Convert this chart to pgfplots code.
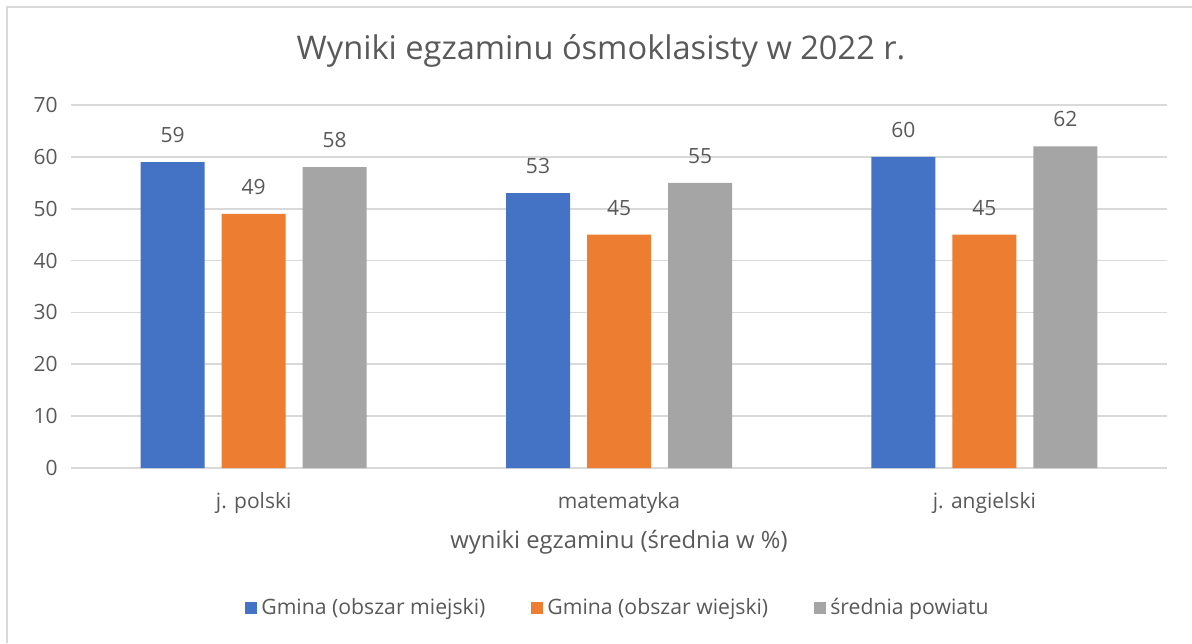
\documentclass[border=0pt]{standalone}
\usepackage{fontspec}
\setmainfont{Open Sans}
\usepackage{pgfplots}
\pgfplotsset{compat=1.18}
\definecolor{cblue}{HTML}{4472C4}
\definecolor{corange}{HTML}{ED7D31}
\definecolor{cgray}{HTML}{A5A5A5}
\definecolor{cgrid}{HTML}{D9D9D9}
\definecolor{txt}{HTML}{595959}
\begin{document}
\begin{tikzpicture}
\useasboundingbox (0,0) rectangle (596pt,321.5pt);
\draw[cgrid, line width=0.8pt] (3.5pt,0) -- (3.5pt,318pt) -- (596pt,318pt);
\node[txt, font=\fontsize{16.3}{19}\selectfont] at (300.5pt,296pt) {Wyniki egzaminu ósmoklasisty w 2022 r.};
\begin{axis}[
  at={(35.5pt,87.5pt)}, anchor=south west,
  scale only axis, width=548pt, height=181.5pt,
  /pgf/number format/assume math mode=true,
  ybar=8.5pt, bar width=32pt,
  xmin=-0.5, xmax=2.5, ymin=0, ymax=70,
  xtick=data, xticklabels={j. polski, matematyka, j. angielski},
  ytick={0,10,...,70},
  major tick length=0pt,
  axis line style={draw=none},
  ymajorgrids, xmajorgrids=false, grid style={cgrid, line width=0.8pt},
  tick label style={txt, font=\fontsize{10.5}{12}\selectfont},
  xticklabel style={anchor=north, inner sep=0pt, yshift=-12pt},
  yticklabel style={anchor=east, inner sep=0pt, xshift=-6.5pt},
  xlabel={wyniki egzaminu (średnia w \%)},
  xlabel style={txt, font=\fontsize{11.9}{13}\selectfont, anchor=north, at={(axis description cs:0.5,0)}, yshift=-31pt, inner sep=0pt},
  nodes near coords,
  every node near coord/.append style={txt, font=\fontsize{10.5}{12}\selectfont, anchor=south, inner sep=0pt, yshift=9.5pt},
  legend columns=3,
  legend style={draw=none, at={(axis description cs:0.5,-0.3857)}, anchor=center, font=\fontsize{10.6}{12}\selectfont, text=txt,
    /tikz/every even column/.append style={column sep=21pt}},
  legend image code/.code={\fill[#1] (0pt,-3pt) rectangle (6pt,3pt);},
]
\addplot[fill=cblue, draw=none] coordinates {(0,59) (1,53) (2,60)};
\addplot[fill=corange, draw=none] coordinates {(0,49) (1,45) (2,45)};
\addplot[fill=cgray, draw=none] coordinates {(0,58) (1,55) (2,62)};
\legend{Gmina (obszar miejski), Gmina (obszar wiejski), średnia powiatu}
\end{axis}
\end{tikzpicture}
\end{document}
